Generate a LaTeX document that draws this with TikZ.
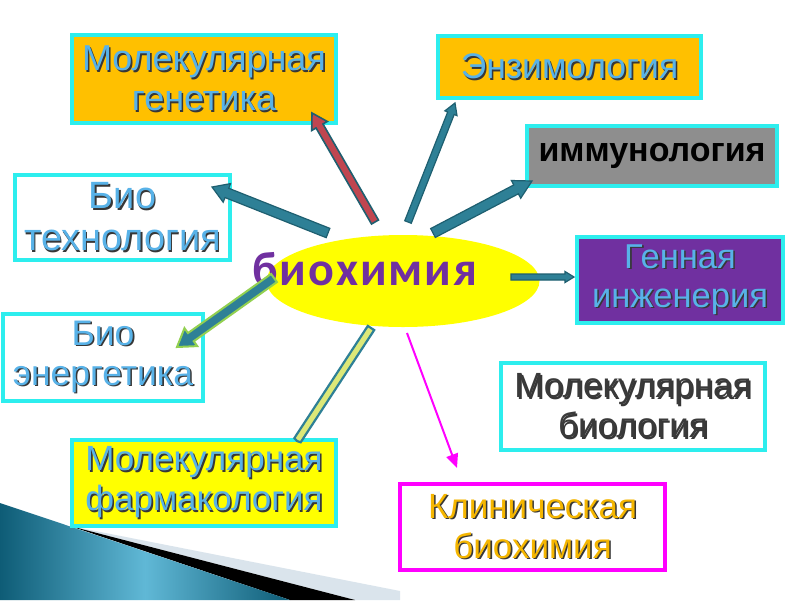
\documentclass[tikz,border=0pt]{standalone}
\usepackage{fontspec}
\setmainfont{Liberation Sans}
\newfontfamily\cfont[LetterSpace=4]{Carlito}
\usetikzlibrary{shapes.geometric,calc,arrows.meta}
\definecolor{cyanb}{RGB}{45,238,238}
\definecolor{orangef}{RGB}{255,192,0}
\definecolor{grayf}{RGB}{142,142,142}
\definecolor{purplef}{RGB}{112,48,160}
\definecolor{yellowf}{RGB}{255,255,0}
\definecolor{txtblue}{RGB}{88,178,232}
\definecolor{magentac}{RGB}{255,0,255}
\definecolor{goldt}{RGB}{245,182,0}
\definecolor{darkt}{RGB}{58,58,58}
\definecolor{tealf}{RGB}{46,128,150}
\definecolor{tealo}{RGB}{30,95,112}
\definecolor{redf}{RGB}{192,70,80}
\definecolor{greeno}{RGB}{146,208,80}
\definecolor{pharmf}{RGB}{220,232,120}
\definecolor{shadowc}{RGB}{55,55,55}
\definecolor{swdark}{RGB}{14,92,118}
\definecolor{swlight}{RGB}{96,184,214}
\definecolor{swband}{RGB}{218,228,236}
\newcommand\shd[1]{\makebox[0pt][l]{\hspace{1.6pt}\raisebox{-1.6pt}{\textcolor{shadowc}{#1}}}#1}
\newcommand\barrow[6]{%
  \coordinate (bb) at ($(#2)!#5pt!(#1)$);
  \draw[#6] ($(#1)!#3pt!90:(#2)$) -- ($(bb)!#3pt!90:(#2)$) -- ($(bb)!#4pt!90:(#2)$) -- (#2)
    -- ($(bb)!#4pt!-90:(#2)$) -- ($(bb)!#3pt!-90:(#2)$) -- ($(#1)!#3pt!-90:(#2)$) -- cycle;
}
\begin{document}
\begin{tikzpicture}[x=1pt,y=-1pt,
  box/.style={draw=cyanb, line width=4pt, inner sep=0pt, align=center},
  fs/.style args={#1/#2}{font=\fontsize{#1}{#2}\selectfont},
  tarrow/.style={fill=tealf, draw=tealo, line width=1.2pt, line join=miter}]
\path[use as bounding box, fill=white] (0,0) rectangle (800,600);
% decorative swoosh
\fill[swband] (70,526) -- (400,591) -- (400,600) -- (355,600) -- cycle;
\fill[black] (70,526) -- (355,600) -- (290,600) -- cycle;
\shade[left color=swdark, right color=swdark, middle color=swlight] (0,503) -- (290,600) -- (0,600) -- cycle;
% boxes
\node[box, fill=orangef, text=txtblue, minimum width=264, minimum height=88, fs=36/40] (gen) at (204,79) {\shd{Молекулярная}\\\shd{генетика}};
\node[box, fill=orangef, text=txtblue, minimum width=263, minimum height=62, fs=35.5/40] (enz) at (569.5,67) {\shd{Энзимология}};
\node[box, fill=grayf, text=black, minimum width=250, minimum height=60, font=\fontsize{34}{38}\selectfont\bfseries] (imm) at (652,156) {иммунология};
\node[box, fill=purplef, text=txtblue, minimum width=206, minimum height=86, fs=34.5/39] (gene) at (680,280) {\shd{Генная}\\\shd{инженерия}};
\node[box, fill=white, text=txtblue, minimum width=215, minimum height=85, fs=38/42] (btech) at (122.5,217.5) {\shd{Био}\\\shd{технология}};
\node[box, fill=white, text=txtblue, minimum width=200, minimum height=87, fs=35.5/40] (ben) at (103,357.5) {\shd{Био}\\\shd{энергетика}};
\node[box, fill=yellowf, text=txtblue, minimum width=264, minimum height=86, fs=35/40] (pharm) at (204,483) {\shd{Молекулярная}\\\shd{фармакология}};
\node[box, fill=white, text=darkt, minimum width=264, minimum height=87, fs=35/40] (mbio) at (633,406.5) {\shd{Молекулярная}\\\shd{биология}};
\node[box, draw=magentac, fill=white, text=goldt, minimum width=265, minimum height=86, fs=35/40] (clin) at (532.5,527) {\shd{Клиническая}\\\shd{биохимия}};
% centre
\node[ellipse, fill=yellowf, minimum width=273, minimum height=92, inner sep=0pt] (core) at (403,281) {};
\node[text=purplef, font=\cfont\bfseries\fontsize{48}{52}\selectfont, inner sep=0pt, anchor=base west] (coretxt) at (252,285) {биохимия};
% connector end points
\coordinate (t1) at (375,222); \coordinate (h1) at (312,113);
\coordinate (t2) at (408,222); \coordinate (h2) at (455,103);
\coordinate (t3) at (433,233); \coordinate (h3) at (532,181);
\coordinate (t4) at (328,233); \coordinate (h4) at (212,187);
\coordinate (t5) at (511,277); \coordinate (h5) at (574,277);
\coordinate (t6) at (274,278); \coordinate (h6) at (177,347);
\coordinate (t7) at (371,328); \coordinate (h7) at (297,441);
\coordinate (t8) at (407,333); \coordinate (h8) at (457,468);
\barrow{t1}{h1}{4}{9}{15}{tarrow, fill=redf, line width=1.6pt}
\barrow{t2}{h2}{3.5}{6.5}{11}{tarrow}
\barrow{t3}{h3}{5}{10}{18}{tarrow}
\barrow{t4}{h4}{5}{10}{16}{tarrow}
\barrow{t5}{h5}{3}{5.5}{9}{tarrow}
\barrow{t6}{h6}{5}{11}{17}{tarrow, draw=greeno, line width=2pt}
\barrow{t7}{h7}{3.8}{3.8}{1}{tarrow, draw=tealf, line width=2.2pt, fill=pharmf}
\draw[magentac, line width=2pt, -{Triangle[length=14pt,width=12pt]}] (t8) -- (h8);
\end{tikzpicture}
\end{document}
